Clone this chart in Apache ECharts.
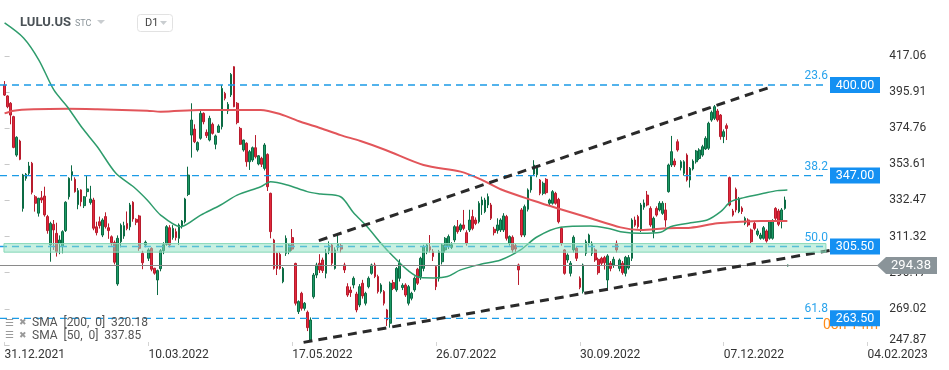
<!DOCTYPE html>
<html><head><meta charset="utf-8">
<script src="https://cdn.jsdelivr.net/npm/echarts@6/dist/echarts.min.js"></script>
<style>html,body{margin:0;padding:0;background:#fff}#c{width:949px;height:370px}</style>
</head><body><div id="c"></div>
<script>
// ---------- data ----------
const symbolName = 'LULU.US';
const tickLabels = ['31.12.2021','10.03.2022','17.05.2022','26.07.2022','30.09.2022','07.12.2022','04.02.2023'];
const tickStep = 47;
const yTicks = [247.87,269.02,290.17,311.32,332.47,353.61,374.76,395.91,417.06];
const holidays = ['2022-01-17','2022-02-21','2022-04-15','2022-05-30','2022-06-20','2022-07-04','2022-09-05','2022-11-24','2022-12-26','2023-01-02','2023-01-16','2023-02-20'];
// daily candles from 31.12.2021: [open, close, low, high]
const candles = [
[400,394.1,393.6,402.3],[393.6,387.3,386.4,394],[389.3,382.4,377,390],[381.5,363.5,363,382],[359,369.4,358,370],
[367.2,356.5,356,368],[327.8,347.3,325.9,348],[345.4,347.8,344,348.5],[348.3,352.6,347,355],[354.2,337.2,336,355],
[334.6,330.8,325.9,335.6],[325,333.7,323,334],[334,332.7,331,338],[335,324,323,340.5],[323,314.8,313,324],
[306.4,319,296.6,320],[318.5,315.2,303.5,321],[313.2,302.5,299.6,319.4],[307.4,309.3,301,312],[305.4,314.2,301.5,315],
[314.8,331.4,314,332],[334.6,345.4,333,346],[347.3,349.3,344,353],[344.8,337.6,337,346],[330,338.2,327.3,339.7],
[338.6,331.7,329,339],[329.4,334.6,328,335],[337.6,339.2,334.6,347.3],[331.2,333.3,330,341],[332.7,316.2,315,334],
[317,313.6,312,320],[320,317.7,316,323],[312.2,321,311,322],[323,317.1,316,325.5],[316.5,314.8,310,319],
[311.2,307.8,306,312],[307.8,296.3,295,309],[283.6,310.3,282.5,312],[308.3,318,305,319],[311.6,317.7,310,320],
[319,316,315,326],[317,329.8,315,331],[331.4,321.6,320,332],[321.4,319.7,318,322],[323.4,304.4,303,324],
[301.5,296,292.2,303],[306.4,308,305,309],[298.6,303.5,297,304.5],[304.4,292.2,291,305],[292.8,289.9,289,293],
[285.9,291.4,277.1,292],[292.5,303,291,304],[303,306.5,301,308],[306.8,317.1,306,318],[316.5,306.4,305,318],
[310.7,316.1,309.5,318],[314.2,310.7,309,316],[310.3,318.1,306.4,319],[317.1,320.4,316,321],[320,333.3,319,334],
[336,347.3,335,352.2],[370.7,379.5,357.5,389.3],[374.2,366.8,366,377],[362,366.3,361,367],[368.8,383.4,368,385],
[383.4,378.5,377,384],[372.3,370.4,369,374],[367.8,380.5,367,382],[377,371.7,371,378],[365.3,370.2,362.4,371],
[372.3,376,372,377],[375.6,398,374,400],[395.1,392.2,391,396],[384.8,388.7,383,390],[394.2,406.2,393,407],
[410.7,387.3,387,411],[389.3,378,377,390],[374.6,365.3,365,375.5],[362,367.8,361,368],[365.9,355.1,352.2,366.5],
[355.1,361,350.3,362],[356.1,363.3,355,364],[363.3,358,357,370.7],[353.8,358.6,353,359],[357.1,353.6,352,358],
[351.2,364.9,350,366],[359.4,340.5,338,360],[336.6,314.2,310.3,337],[309.3,292.7,292,310],[301.5,292.7,288.8,302],
[300.9,292.7,292,302],[284.9,292.7,284,293.5],[301.5,310.3,300,312],[302.5,306.4,301,307],[310.7,304,303,315.7],
[295.6,272.3,271,296],[267.4,273.3,266,274],[278.1,269.3,268,279],[269.3,272.3,268,273],[267,258,256,268],
[250.8,262.5,250,264],[276.1,288.8,275,290],[288.8,294.7,287,296],[295.7,291.8,290,301],[297.6,291.4,290,299],
[289.8,301.5,286.9,304],[303,306,301,308.5],[306.4,295.7,294,307],[292.7,303.5,292,305],[305,307,303,312.2],
[306,304,302,307.5],[294.7,291.8,290,296],[282,277.1,276,284],[280,278.5,276,282],[283,286.9,281,288],
[277.7,268.4,267,279],[271.3,282,270,283.5],[284,276.6,275,286],[272.3,278.1,271,279],[282,286.9,281,288],
[289.8,294.7,289,295.5],[294.7,287.9,287,296],[287.9,279.1,278,289],[279.1,283,278,284],[279.1,272.3,271,280],
[268.4,262.5,259,269],[260.6,284,258,285],[284.4,281,280,286],[280.1,292.7,279,293.5],[286.9,295.7,285,298],
[281.5,282.8,280,284],[283,277.1,276,284],[272.3,282,271,283],[275.2,278.1,274,279],[280.1,286.9,279,288],
[292.2,284,283,293],[287.9,298.6,286,299.5],[292.7,305.4,291,306.5],[302.5,306.4,301,307],[305.4,303.5,302,312.2],
[302.5,299.6,297,304],[293.7,282,280,294.5],[286.9,302.5,285,303.5],[296.6,306.4,295,307.5],[303.5,310.3,302,311],
[305.4,311.3,304,312.5],[305,306.5,304,308],[309.3,317.1,308,318],[317.1,314.2,313,321],[315.2,318.1,314,319],
[318.1,316.1,315,326.9],[313.6,307.4,306,315],[315.2,321,314,327],[323,316.1,315,327],[321,319,318,322.5],
[320,330.8,319,332],[329.8,332.7,324,334.7],[325.9,332.7,325,334],[329.8,334.7,328,336.5],[329.8,322,321,331],
[315.6,313.6,312,317],[314.8,318.1,313,322],[315.2,321,314,322],[315.2,323.4,314,325],[323,310.3,309,324],
[307.4,311.3,306,312],[310.9,303.5,302,312],[306,304,302,307],[294.7,291.8,283,295.5],[326.9,312.2,311,328],
[312.2,328.8,311,330],[327.3,338.6,326,339.5],[338.6,346.4,337,347],[347.9,353.2,347,356],[347.5,352,346,353],
[344.4,336.6,335.5,345],[336.6,342.5,335.5,343.5],[344.8,337,336,345.5],[330.8,332.7,329.5,333.5],[330.8,337.6,330,338.5],
[336.6,330.8,330,337.5],[333.1,320,319,334],[316.1,307.4,306,317],[303.5,289.8,289,304],[297.6,300.5,296,301.5],
[289.8,295.7,288,297],[303.5,310.9,302,312],[304.5,298.6,297,305.5],[286.9,281.6,280.5,288],[279.1,294.7,278,295.5],
[301.5,308.3,300,309.5],[307.4,312.2,306,313],[301.5,307.4,300,308.5],[303.5,297.6,296.5,304.5],[298,290.2,289,299],
[298.6,295.7,294.5,299.5],[299,296,292,300],[285.9,300,280,301],[295.7,292.7,291,297],[294.7,298,293,299.5],
[307.4,303.5,302,309],[292.7,297.6,291,298.5],[295.7,290.2,289,297],[289.8,299.2,288,300],[293,299,292,300.5],
[298.6,321,297,322],[321,318,317,323],[323,317.1,316,324],[315.2,329.8,314,331],[328.5,331,327,333],
[335.6,329.8,329,338],[327.8,318.1,317,329],[314.2,322,310.3,323],[327.8,323.9,323,329],[326.9,330.8,326,332],
[324.9,330.8,324,332],[326.9,321,317,331],[337.6,353.2,337,354],[353.2,361,352,370.2],[355.5,353.2,352,357],
[366.8,362,361,368.2],[351.6,355.1,350,356],[348.3,355.1,347,356],[359,344.4,343.5,360],[344.4,351.2,340,352],
[350.9,355.5,350,356.5],[355.1,361.4,354,362],[357,362,356,363],[359,363.9,358,365],[362.6,368.8,362,370],
[363,377.6,362,378.5],[379.5,384,378.5,385],[380.5,387.3,379.5,388.3],[384.8,379.5,378.5,386],[382.4,369.8,368,383],
[369.8,372.7,366,374],[376.2,374.6,367.8,377.5],[345.8,329.8,329,346.4],[326.3,323.9,323,327.5],[339,326.9,325.5,340],
[325.9,333.7,325,334.5],[328,326,324.5,329],[319,322,318,323],[321,318.1,317,322],[315.2,308.3,307.4,316],
[319,316.1,315,320],[312.6,314.6,311.5,316],[310.3,312.2,309.5,313.5],[310.3,316.5,309.5,317.5],[314.6,308.7,307.8,315.5],
[310.3,320,309.5,321],[310.3,320.4,309.5,321.5],[327.8,322,321,328.5],[326.3,318.5,317.4,327.5],[321,326.9,316.1,328],
[327.8,332.7,327,334.7],[294.2,294.6,293.8,294.9]
];
// moving averages: [bar index from 31.12.2021, value]
const sma200 = [[0,383.4],[3,385],[9.5,385.8],[20.5,386.1],[30.3,385.8],[46.6,385],[51,384.4],[64.1,385.4],[83.7,385.4],[90.2,382.9],[96.7,378.5],[103.3,374.7],[109.8,370.7],[116.3,367.2],[124.5,362],[136.9,353.2],[149,349.3],[155.6,344.8],[162.1,339],[172.9,332.3],[180.6,327.9],[191.5,322],[201.3,316.7],[207.8,315.2],[216.6,316.2],[224.2,316.5],[232.9,319.1],[240.5,320],[247.1,320.4],[255.8,320.4]];
const sma50 = [[0,436.3],[6.2,427.5],[11.2,414.6],[16.1,397.1],[20.5,387.3],[25.4,374.8],[30.3,363.9],[36.3,348.5],[42.2,340.3],[46.6,332.7],[51,323.9],[57.5,317.1],[64.1,323.9],[70.6,329.8],[76,335.6],[83.7,340.5],[86.9,343.4],[92.4,341.5],[98.9,337.6],[103.3,336.2],[109.8,334.6],[114.1,325.1],[118.5,317.1],[122.9,307.6],[127.1,299.5],[131.6,291.8],[135.9,287.3],[140.2,287.1],[144.7,287.9],[149,291.8],[155.6,295.1],[162.1,297.6],[168.6,303.5],[174.1,311.2],[181.7,316.7],[191.5,317.5],[197,316.2],[201.3,314.2],[207.8,313.2],[214.4,313.8],[217.6,317.1],[224.2,319.4],[229.6,321],[234,325.9],[237.3,331.7],[241.6,334.1],[248.1,336.6],[252.5,338.2],[255.8,338.6]];
const fibLevels = [400, 347, 305.5, 263.5];
const fibRatios = ['23.6','38.2','50.0','61.8'];
const fibEnd = 268.4;
const zone = [302.2, 307.2];
const lastPrice = 294.38;
const upperTrend = [[102.7,308.9],[250.3,398.8]];
const lowerTrend = [[97.7,249.4],[269.9,303.3]];
const smaLegend = [['SMA  [200,  0]', 320.18], ['SMA  [50,  0]', 337.85]];
const countdown = '08h 14m';

// ---------- categories (trading days) ----------
const nCats = 288;
const cats = [];
let d = new Date(Date.UTC(2021, 11, 30));
while (cats.length < nCats) {
  const dow = d.getUTCDay(), s = d.toISOString().slice(0, 10);
  if (dow !== 0 && dow !== 6 && !holidays.includes(s)) cats.push(s);
  d = new Date(d.getTime() + 86400000);
}
const candleData = ['-'].concat(candles);
const isTick = i => i >= 1 && (i - 1) % tickStep === 0;
const FONT = 'Roboto, "DejaVu Sans", sans-serif';

const ln = (data, color, width, type, z, smooth) => ({
  type: 'line', xAxisIndex: 1, yAxisIndex: 0, data, symbol: 'none', silent: true,
  smooth: smooth || false, lineStyle: { color, width, type: type || 'solid' }, z
});

const series = [
  { type: 'candlestick', xAxisIndex: 0, yAxisIndex: 0, data: candleData, barWidth: 2.2, z: 2,
    itemStyle: { color: '#1c9a66', color0: '#e3283c', borderColor: '#0c6b44', borderColor0: '#b81c2d', borderWidth: 1 } },
  ln(sma200, '#e2555a', 2, 'solid', 3, 0.3),
  ln(sma50, '#2e9c6c', 1.5, 'solid', 3, 0.3)
];
fibLevels.forEach(v => series.push(ln([[-1.5, v], [fibEnd, v]], '#1b9be6', 1.3, [7, 5], 3)));
series.push(ln([[-1.5, lastPrice], [nCats - 1.5, lastPrice]], '#8a8a8a', 1, 'solid', 4));
series.push(ln(upperTrend, '#2a2a2a', 3, [9, 6], 5));
series.push(ln(lowerTrend, '#2a2a2a', 3, [9, 6], 5));
series.push({
  type: 'custom', xAxisIndex: 1, yAxisIndex: 0, z: 6, silent: true,
  data: [[-0.2, fibEnd, zone[1], zone[0]]], encode: { x: [0, 1], y: [2, 3] },
  renderItem: (p, api) => {
    const a = api.coord([api.value(0), api.value(2)]);
    const b = api.coord([api.value(1), api.value(3)]);
    return { type: 'rect', shape: { x: a[0], y: a[1], width: b[0] - a[0], height: b[1] - a[1] },
      style: { fill: 'rgba(146,226,196,0.5)', stroke: '#86d8b8', lineWidth: 1 } };
  }
});

const option = {
  animation: false,
  backgroundColor: '#ffffff',
  grid: { left: 0, right: 67.7, top: 0, bottom: 24 },
  xAxis: [{
    type: 'category', data: cats, boundaryGap: true,
    axisLine: { show: false },
    axisTick: { show: true, inside: true, length: 4, alignWithLabel: true, interval: isTick, lineStyle: { color: '#d4d4d4' } },
    axisLabel: { interval: isTick, formatter: (v, i) => tickLabels[(i - 1) / tickStep] || '', align: 'left', margin: 3,
      color: '#333', fontSize: 12, fontFamily: FONT },
    splitLine: { show: false }
  }, {
    type: 'value', min: -1.5, max: nCats - 1.5, show: false
  }],
  yAxis: {
    type: 'value', position: 'right', min: 247.28, max: 449.74,
    axisLine: { show: false }, splitLine: { show: false },
    axisTick: { show: true, length: 5, customValues: yTicks, lineStyle: { color: '#c8c8c8' } },
    axisLabel: { customValues: yTicks, margin: 8, color: '#333', fontSize: 12, fontFamily: FONT,
      formatter: v => { const s = v.toFixed(2); return Math.abs(v - yTicks[0]) < 0.01 ? '{low|' + s + '}' : s; },
      rich: { low: { padding: [0, 0, 10, 0], fontSize: 12, color: '#333', fontFamily: FONT } } }
  },
  series
};

const chart = echarts.init(document.getElementById('c'), null, { renderer: 'canvas' });
chart.setOption(option);

const py = v => chart.convertToPixel({ yAxisIndex: 0 }, v);
const g = [];
const txt = (x, y, text, fill, font, align, z) => ({ type: 'text', x, y, z: z || 100,
  style: { text, fill, font, align: align || 'left', verticalAlign: 'middle', textAlign: align || 'left', textVerticalAlign: 'middle' } });
// countdown (partly covered by the 61.8 box)
g.push(txt(823, py(263.5) + 7, countdown, '#ff8c1a', '14px ' + FONT, 'left', 90));
fibLevels.forEach((v, k) => {
  const y = py(v);
  g.push(txt(828, y - 9, fibRatios[k], '#29a3ec', '12px ' + FONT, 'right'));
  g.push({ type: 'rect', z: 100, shape: { x: 830, y: y - 8, width: 50, height: 16 }, style: { fill: '#1490f2' } });
  g.push(txt(855, y + 0.5, v.toFixed(2), '#ffffff', '12.5px ' + FONT, 'center', 101));
});
// last price tag
const ly = py(lastPrice);
g.push({ type: 'polygon', z: 100, shape: { points: [[877, ly], [886, ly - 8.5], [937, ly - 8.5], [937, ly + 8.5], [886, ly + 8.5]] }, style: { fill: '#8a9499' } });
g.push(txt(911, ly + 0.5, lastPrice.toFixed(2), '#ffffff', '13px ' + FONT, 'center', 101));
// header
g.push(txt(20, 23, symbolName, '#4b5257', 'bold 13px ' + FONT, 'left'));
g.push(txt(75, 24, 'STC', '#8b9499', '9px ' + FONT, 'left'));
g.push({ type: 'polygon', z: 100, shape: { points: [[97, 20], [105, 20], [101, 24]] }, style: { fill: '#c9cdd0' } });
g.push({ type: 'rect', z: 100, shape: { x: 137.5, y: 14.5, width: 35, height: 17, r: 3 }, style: { fill: '#fff', stroke: '#e2e2e2', lineWidth: 1 } });
g.push(txt(145, 23.5, 'D1', '#444', '11px ' + FONT, 'left'));
g.push({ type: 'polygon', z: 100, shape: { points: [[160, 21], [167, 21], [163.5, 25]] }, style: { fill: '#c9cdd0' } });
// indicator legend
smaLegend.forEach((s, k) => {
  const y = 323 + k * 12.5;
  g.push(txt(5, y, '☰', '#9a9a9a', '10px "DejaVu Sans"', 'left'));
  g.push(txt(19, y, '✖', '#9a9a9a', '9px "DejaVu Sans"', 'left'));
  g.push(txt(32, y, s[0] + '  ' + s[1].toFixed(2), '#555', '12px ' + FONT, 'left'));
});
chart.setOption({ graphic: { elements: g } });
</script>
</body></html>
